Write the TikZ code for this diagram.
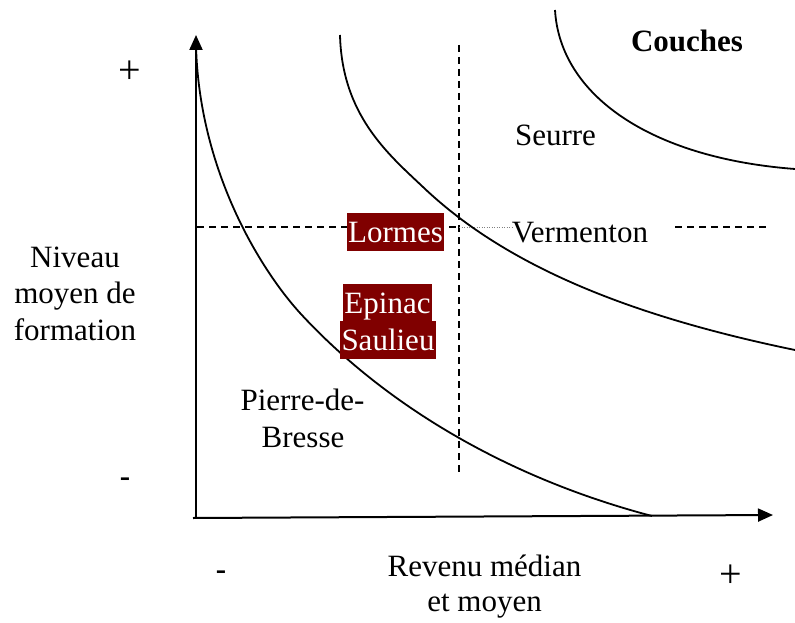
\documentclass[tikz,border=0pt]{standalone}
\usepackage{fontspec}
\setmainfont{Liberation Serif}
\usetikzlibrary{arrows.meta}
\definecolor{dred}{HTML}{800000}
\begin{document}
\begin{tikzpicture}[x=1pt,y=-1pt,
  every node/.style={font=\fontsize{31}{36.5}\selectfont, inner sep=0pt},
  lbl/.style={anchor=base},
  sign/.style={font=\fontsize{40}{44}\selectfont},
  minus/.style={font=\fontsize{31}{36}\selectfont\bfseries},
  hl/.style={fill=dred,text=white,inner xsep=1.5pt,inner ysep=4pt,text height=25pt,text depth=5pt},
  axisline/.style={line width=2pt,-{Triangle[width=13pt,length=15pt]}},
  curveline/.style={line width=1.8pt},
  dashline/.style={line width=1.5pt,dash pattern=on 7pt off 5pt},
  dotline/.style={gray,line width=0.8pt,dash pattern=on 1pt off 1.5pt},
]
\useasboundingbox (0,0) rectangle (795,623);
% axes
\coordinate (O) at (196,518);
\coordinate (ytop) at (196,35);
\coordinate (x0) at (193,518);
\coordinate (xend) at (773,515);
\draw[axisline] (O) -- (ytop);
\draw[axisline] (x0) -- (xend);
% dashed guides
\coordinate (vtop) at (459,45);
\coordinate (vbot) at (459,473);
\draw[dashline] (vtop) -- (vbot);
\coordinate (hl0) at (197,227);
\coordinate (hl1) at (459,227);
\draw[dashline] (hl0) -- (hl1);
\coordinate (hr0) at (675,227);
\coordinate (hr1) at (768,227);
\draw[dashline] (hr0) -- (hr1);
% labels
\node[lbl] (verm) at (580,242) {Vermenton};
\draw[dotline] (hl1) -- (hl1 -| verm.west);
% curves
\coordinate (a0) at (196,45);
\coordinate (a1) at (300,313);
\coordinate (a2) at (652,516);
\draw[curveline] (a0) .. controls (199,170) and (260,269) .. (a1)
                      .. controls (380,400) and (500,476) .. (a2);
\coordinate (b0) at (340,35);
\coordinate (b1) at (423,187);
\coordinate (b2) at (795,350);
\draw[curveline] (b0) .. controls (342,115) and (388,154) .. (b1)
                      .. controls (510,270) and (640,318) .. (b2);
\coordinate (c0) at (555,10);
\coordinate (c1) at (795,169);
\draw[curveline] (c0) .. controls (560,95) and (650,158) .. (c1);
% highlighted towns
\node[hl] (lormes) at (395.5,232) {Lormes};
\node[hl] (epinac) at (387.5,303) {Epinac};
\node[hl] (saulieu) at (388,340) {Saulieu};
% other texts
\node[sign] (plusy) at (130,72) {+};
\node[minus] (miny) at (125,482) {-};
\node[minus] (minx) at (221,575) {-};
\node[sign] (plusx) at (731,576) {+};
\node[lbl] (niv1) at (75,267) {Niveau};
\node[lbl] (niv2) at (75,303.5) {moyen de};
\node[lbl] (niv3) at (75,340) {formation};
\node[lbl,font=\fontsize{31}{36.5}\selectfont\bfseries] (couches) at (687,52) {Couches};
\node[lbl] (seurre) at (555.5,146) {Seurre};
\node[lbl] (pierre) at (302.5,410) {Pierre-de-};
\node[lbl] (bresse) at (303,447) {Bresse};
\node[lbl] (rev1) at (484.5,576.5) {Revenu médian};
\node[lbl] (rev2) at (484.5,611) {et moyen};
\end{tikzpicture}
\end{document}
